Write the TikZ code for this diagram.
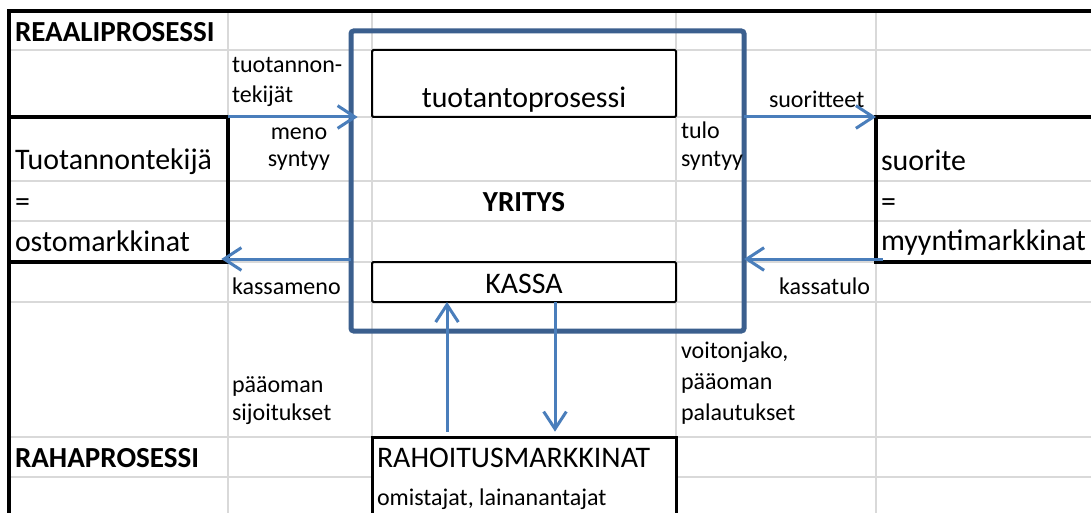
\documentclass[tikz,border=0pt]{standalone}
\usepackage{fontspec}
\setmainfont{Carlito}
\usetikzlibrary{arrows.meta,calc}
\definecolor{gridc}{HTML}{D9D9D9}
\definecolor{frameblue}{HTML}{3B5F8E}
\definecolor{arrblue}{HTML}{4A7EBB}
\tikzset{
  gridline/.style={gridc, line width=1.4pt},
  blk/.style={black, line width=2.4pt},
  cellbox/.style={draw=black, fill=white, line width=1.5pt, rounded corners=1pt, inner sep=0pt, outer sep=0pt, anchor=north west},
  sidebox/.style={draw=black, line width=2.4pt, inner sep=0pt, outer sep=0pt, anchor=north west},
  frame/.style={draw=frameblue, line width=3.75pt, rounded corners=2pt, inner sep=0pt, outer sep=0pt, anchor=north west},
  arr/.style={arrblue, line width=2.25pt, -{Straight Barb[length=13pt,width=17pt]}},
  small/.style={inner sep=0pt, outer sep=0pt, font=\fontsize{18}{21}\selectfont},
  large/.style={inner sep=0pt, outer sep=0pt, font=\fontsize{22.4}{26}\selectfont},
  boldt/.style={inner sep=0pt, outer sep=0pt, font=\fontsize{21.8}{26}\selectfont\bfseries},
}
\begin{document}
\begin{tikzpicture}[x=0.75pt,y=-0.75pt]
\useasboundingbox (0,0) rectangle (1091,513);
\clip (0,0) rectangle (1091,513);
\fill[white] (0,0) rectangle (1091,513);
% grid
\foreach \yy in {50,117,181,221,262,302,437,477} \draw[gridline] (9,\yy) -- (1091,\yy);
\foreach \xx in {228,372,676,876} \draw[gridline] (\xx,11) -- (\xx,513);
% outer border
\draw[blk] (9,513) -- (9,11) -- (1091,11);
% side boxes
\node[sidebox, minimum width=164.25pt, minimum height=108.75pt] (lbox) at (9,117) {};
\node[sidebox, minimum width=170pt, minimum height=108.75pt] (rbox) at (876,117) {};
% inner boxes
\node[cellbox, minimum width=228pt, minimum height=50.25pt] (tuot) at (372,50) {};
\node[cellbox, minimum width=228pt, minimum height=30pt] (kassa) at (372,262) {};
\node[cellbox, line width=2.25pt, rounded corners=0pt, minimum width=228pt, minimum height=75pt] (rahoitus) at (372,437) {};
% company frame
\node[frame, minimum width=294.75pt, minimum height=225pt] (yritys) at (351,31) {};
% texts
\node[boldt, anchor=base west] (reaali) at (15,42) {REAALIPROSESSI};
\node[small, anchor=base west] (tt1) at (232,73) {tuotannon-};
\node[small, anchor=base west] (tt2) at (232,103) {tekijät};
\node[small, anchor=base] (meno1) at (299,140) {meno};
\node[small, anchor=base] (meno2) at (299,167) {syntyy};
\node[large, anchor=base west] (lt1) at (15,170) {Tuotannontekijä};
\node[large, anchor=base west] (lt2) at (15,212) {=};
\node[large, anchor=base west] (lt3) at (15,252) {ostomarkkinat};
\node[small, anchor=base west] (kmeno) at (232,294) {kassameno};
\node[large, anchor=base] (tuottxt) at (524,108) {tuotantoprosessi};
\node[small, anchor=base west] (tulo1) at (681,139) {tulo};
\node[small, anchor=base west] (tulo2) at (681,167) {syntyy};
\node[small, anchor=base west] (suor) at (769,108) {suoritteet};
\node[large, anchor=base west] (rt1) at (881,171) {suorite};
\node[large, anchor=base west] (rt2) at (881,212) {=};
\node[large, anchor=base west] (rt3) at (881,251) {myyntimarkkinat};
\node[small, anchor=base east] (ktulo) at (870,294) {kassatulo};
\node[boldt, anchor=base] (yrtxt) at (524,212) {YRITYS};
\node[large, anchor=base] (kassatxt) at (524,293) {KASSA};
\node[small, anchor=base west] (ps1) at (232,392) {pääoman};
\node[small, anchor=base west] (ps2) at (232,420) {sijoitukset};
\node[small, anchor=base west] (vj1) at (681,358) {voitonjako,};
\node[small, anchor=base west] (vj2) at (681,389) {pääoman};
\node[small, anchor=base west] (vj3) at (681,420) {palautukset};
\node[boldt, anchor=base west] (raha) at (15,467) {RAHAPROSESSI};
\node[large, anchor=base west] (rahtxt) at (377,467) {RAHOITUSMARKKINAT};
\node[small, anchor=base west] (omist) at (377,505) {omistajat, lainanantajat};
% connectors
\coordinate (upx) at (447,0);
\coordinate (dnx) at (555,0);
\draw[arr] (lbox.north east) -- ([xshift=5pt]lbox.north east -| yritys.west);
\draw[arr] (rbox.north west -| yritys.east) -- (rbox.north west);
\draw[arr] ([yshift=2.25pt]lbox.south east -| yritys.west) -- ([yshift=2.25pt,xshift=-5pt]lbox.south east);
\draw[arr] ([yshift=2.25pt,xshift=5pt]rbox.south west) -- ([yshift=2.25pt]rbox.south west -| yritys.east);
\draw[arr, shorten <=4pt] (upx |- rahoitus.north) -- (upx |- kassa.south);
\draw[arr, shorten >=4pt] (dnx |- kassa.south) -- (dnx |- rahoitus.north);
\end{tikzpicture}
\end{document}
